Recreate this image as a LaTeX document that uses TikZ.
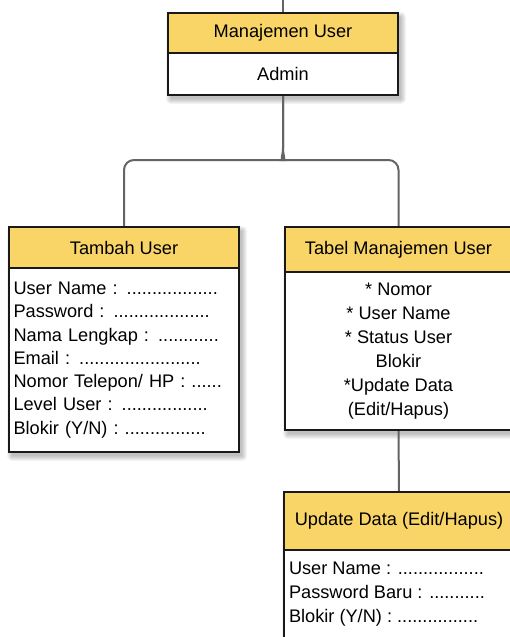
\documentclass[tikz,border=0pt]{standalone}
\usepackage{fontspec}
\setmainfont{Liberation Sans}
\definecolor{hdrfill}{RGB}{249,213,104}
\definecolor{linegray}{RGB}{100,100,100}
\pgfdeclarelayer{bg}
\pgfdeclarelayer{bottom}
\pgfsetlayers{bottom,bg,main}
\tikzset{
  boxpart/.style={draw=black!90, line width=1.3pt, rectangle, inner sep=0pt, outer sep=0pt,
    font=\fontsize{18.2}{23.3}\selectfont},
  hdr/.style={boxpart, fill=hdrfill},
  bodybox/.style={boxpart, fill=white},
  plaintext/.style={inner sep=0pt, outer sep=0pt, font=\fontsize{18.2}{24}\selectfont},
  conn/.style={draw=linegray, line width=2pt},
  shadowpart/.style={fill=black, fill opacity=0.045},
}
\newcommand{\mysoftshadow}[2]{%
  \foreach \r in {0,1,2,3,4,5}{%
    \fill[shadowpart, rounded corners=\r pt] ([shift={(3-\r,4-\r)}]#1) rectangle ([shift={(3+\r,4+\r)}]#2);
  }%
}
\begin{document}
\begin{tikzpicture}[x=1pt, y=-1pt]
\useasboundingbox (0,0) rectangle (510,637);
\clip (0,0) rectangle (510,637);
\begin{pgfonlayer}{bottom}
\fill[white] (0,0) rectangle (510,637);
\end{pgfonlayer}

% top box
\node[hdr, minimum width=230, minimum height=40, anchor=north west] (tophdr) at (168,13) {Manajemen User};
\node[bodybox, minimum width=230, minimum height=42, anchor=north] (topbody) at (tophdr.south) {Admin};

% left box
\node[hdr, minimum width=230, minimum height=41, anchor=north west] (lefthdr) at (9,227) {Tambah User};
\node[bodybox, minimum width=230, minimum height=184, anchor=north, text width=221, align=left] (leftbody) at (lefthdr.south)
 {User Name : ..................\\
  Password : ...................\\
  Nama Lengkap : ............\\
  Email : ........................\\
  Nomor Telepon/ HP : ......\\
  Level User : .................\\
  Blokir (Y/N) : ................};

% right box
\node[hdr, minimum width=227, minimum height=45, anchor=north west] (righthdr) at (285,227) {Tabel Manajemen User};
\node[bodybox, minimum width=227, minimum height=158, anchor=north, align=center, font=\fontsize{18.2}{24}\selectfont] (rightbody) at (righthdr.south)
 {* Nomor\\
  * User Name\\
  * Status User\\
  Blokir\\
  *Update Data\\
  (Edit/Hapus)};

% bottom box
\node[hdr, minimum width=230, minimum height=58, anchor=north west] (bothdr) at (284,492) {Update Data (Edit/Hapus)};
\node[bodybox, minimum width=230, minimum height=110, anchor=north] (botbody) at (bothdr.south) {};
\node[plaintext, anchor=north west, align=left] (bottext) at (289,562)
 {User Name : .................\\
  Password Baru : ...........\\
  Blokir (Y/N) : ................};

% shadows
\begin{pgfonlayer}{bg}
  \mysoftshadow{tophdr.north west}{topbody.south east}
  \mysoftshadow{lefthdr.north west}{leftbody.south east}
  \mysoftshadow{righthdr.north west}{rightbody.south east}
  \mysoftshadow{bothdr.north west}{botbody.south east}
\end{pgfonlayer}

% connectors
\coordinate (topend) at (283,0);
\begin{pgfonlayer}{bg}
\draw[conn] (topend) -- (tophdr.north);
\draw[conn] (lefthdr.north) [rounded corners=10pt] |- (273,160) [sharp corners] .. controls (280,160) and (283,156) .. (283,148) -- (topbody.south);
\draw[conn] (righthdr.north) [rounded corners=10pt] |- (293,160) [sharp corners] .. controls (286,160) and (283,156) .. (283,148) -- (topbody.south);
\draw[conn] (rightbody.south) -- (bothdr.north);
\end{pgfonlayer}
\end{tikzpicture}
\end{document}
